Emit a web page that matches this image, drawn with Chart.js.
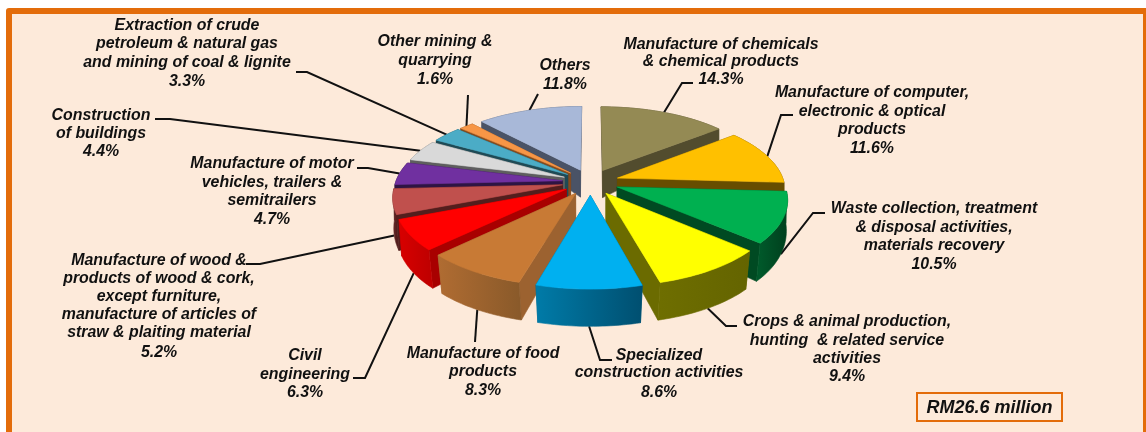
<!DOCTYPE html>
<html>
<head>
<meta charset="utf-8">
<title>RM26.6 million</title>
<script src="https://cdn.jsdelivr.net/npm/chart.js@4"></script>
<style>
    html, body { margin: 0; padding: 0; background: #fff; }
    body { position: relative; width: 1146px; height: 432px; overflow: hidden; }
    #frame {
        position: absolute; left: 6px; top: 8px; width: 1131px; height: 440px;
        background: #fdeada; border: 6px solid #e36c0a; border-radius: 3px;
    }
    #chartjs { position: absolute; left: 0; top: 0; }
    #total {
        position: absolute; left: 916px; top: 392px; width: 143px; height: 26px;
        border: 2px solid #e36c0a; text-align: center; color: #111;
        font: italic bold 18px "Liberation Sans", Arial, sans-serif; line-height: 27px;
    }
</style>
</head>
<body>
<div id="frame"></div>
<canvas id="chartjs" width="1146" height="432"></canvas>
<div id="total">RM26.6 million</div>
<script>
const categories = [
    ["Manufacture of chemicals", "& chemical products"],
    ["Manufacture of computer,", "electronic & optical", "products"],
    ["Waste collection, treatment", "& disposal activities,", "materials recovery"],
    ["Crops & animal production,", "hunting  & related service", "activities"],
    ["Specialized", "construction activities"],
    ["Manufacture of food", "products"],
    ["Civil", "engineering"],
    ["Manufacture of wood &", "products of wood & cork,", "except furniture,", "manufacture of articles of", "straw & plaiting material"],
    ["Manufacture of motor", "vehicles, trailers &", "semitrailers"],
    ["Construction", "of buildings"],
    ["Extraction of crude", "petroleum & natural gas", "and mining of coal & lignite"],
    ["Other mining &", "quarrying"],
    ["Others"]
];
const values = [14.3, 11.6, 10.5, 9.4, 8.6, 8.3, 6.3, 5.2, 4.7, 4.4, 3.3, 1.6, 11.8];

const topColors = ["#948a54", "#ffc000", "#00b050", "#ffff00", "#00b0f0", "#c87a35", "#ff0000", "#c0504d", "#7030a0", "#d9d9d9", "#4bacc6", "#f79646", "#a8b8d8"];
const cutColors = ["#524c2e", "#674d00", "#004a22", "#6b6b00", "#005f82", "#9c6230", "#a80000", "#531e1d", "#2e1443", "#5e5e5e", "#1f4a55", "#844c1f", "#4a5366"];
const rimLeft = ["#524c2e", "#674d00", "#00582a", "#6e6e00", "#007ba8", "#b06c32", "#d80000", "#6a2a28", "#2e1443", "#5e5e5e", "#1f4a55", "#844c1f", "#4a5366"];
const rimRight = ["#524c2e", "#674d00", "#003f1d", "#646400", "#004f70", "#8a5a2a", "#c00000", "#531e1d", "#2e1443", "#5e5e5e", "#1f4a55", "#844c1f", "#4a5366"];

// label centre x and the y of each text line, last one is the percentage
const labelX = [721, 872, 934, 847, 659, 483, 305, 159, 272, 101, 187, 435, 565];
const labelY = [
    [45, 62, 80], [93, 112, 130, 149], [209, 228, 246, 265], [322, 341, 359, 377], [356, 373, 393],
    [354, 372, 391], [356, 375, 393], [261, 279, 297, 315, 333, 353], [164, 183, 201, 220],
    [116, 134, 152], [26, 44, 63, 82], [42, 61, 80], [66, 85]
];
// leader line from the label to the bend, the slice end comes from the arc itself
const leaderBends = [
    [[693, 83], [682, 83]], [[793, 115], [781, 115]], [[825, 213], [813, 213]], [[737, 326], [726, 326]],
    [[612, 360], [600, 360]], [[475, 342]], [[353, 378], [365, 378]],
    [[246, 264], [260, 264]], [[357, 168], [368, 168]], [[155, 119], [170, 119]],
    [[296, 72], [307, 72]], [[468, 95]], [[538, 94]]
];

// tilted disc, top face and bottom face have their own perspective
const view = { cx: 590.5, sx: 195, sy: 89, p: .169, cy: 182, bottomCy: 212, bottomSy: 110, bottomP: .0377, bottomPinch: .035 };
const steps = 24;

function topPoint(u, v) {
    const w = 1 - view.p * v;
    return { x: view.cx + view.sx * u / w, y: view.cy + view.sy * v / w };
}

function bottomPoint(u, v) {
    const x = view.cx + (topPoint(u, v).x - view.cx) * (1 - view.bottomPinch * Math.max(v, 0));
    return { x: x, y: view.bottomCy + view.bottomSy * v / (1 - view.bottomP * v) };
}

// disc coordinates of a slice: apex and rim points, taken from the arc element
function sliceGeometry(arc) {
    const p = arc.getProps(["startAngle", "endAngle", "outerRadius"], true);
    const off = arc.options.offset;
    const total = p.outerRadius + off;
    const mid = (p.startAngle + p.endAngle) / 2;
    const at = a => ({
        u: (Math.cos(mid) * off + Math.cos(a) * p.outerRadius) / total,
        v: (Math.sin(mid) * off + Math.sin(a) * p.outerRadius) / total
    });
    const apex = { u: Math.cos(mid) * off / total, v: Math.sin(mid) * off / total };
    const rim = [];
    for (let i = 0; i <= steps; i++) {
        rim.push(at(p.startAngle + (p.endAngle - p.startAngle) * i / steps));
    }
    return { apex, rim, mid: at(mid) };
}

function fillPolygon(ctx, points, color) {
    ctx.beginPath();
    points.forEach((pt, i) => i ? ctx.lineTo(pt.x, pt.y) : ctx.moveTo(pt.x, pt.y));
    ctx.closePath();
    ctx.fillStyle = color;
    ctx.strokeStyle = color;
    ctx.lineWidth = .6;
    ctx.fill();
    ctx.stroke();
}

function drawLeaders(ctx, arcs) {
    ctx.strokeStyle = "#111";
    ctx.lineWidth = 2;
    arcs.forEach((arc, i) => {
        const m = sliceGeometry(arc).mid;
        const end = m.v > 0 ? bottomPoint(m.u, m.v) : topPoint(m.u, m.v);
        ctx.beginPath();
        leaderBends[i].forEach((pt, k) => k ? ctx.lineTo(pt[0], pt[1]) : ctx.moveTo(pt[0], pt[1]));
        ctx.lineTo(end.x, end.y);
        ctx.stroke();
    });
}

function drawSlice(ctx, arc, i) {
    const g = sliceGeometry(arc);
    const xs = g.rim.map(r => topPoint(r.u, r.v).x);
    const gradient = ctx.createLinearGradient(Math.min(...xs), 0, Math.max(...xs), 0);
    gradient.addColorStop(0, rimLeft[i]);
    gradient.addColorStop(1, rimRight[i]);

    const rimTop = g.rim.map(r => topPoint(r.u, r.v));
    const rimBottom = g.rim.map(r => bottomPoint(r.u, r.v)).reverse();
    const walls = [
        { pts: [g.apex, g.rim[0]], poly: null, color: cutColors[i] },
        { pts: [g.apex, g.rim[steps]], poly: null, color: cutColors[i] },
        { pts: [g.rim[0], g.rim[steps / 2], g.rim[steps]], poly: rimTop.concat(rimBottom), color: gradient }
    ];
    const depth = w => w.pts.reduce((s, r) => s + r.v, 0) / w.pts.length;
    walls.sort((a, b) => depth(a) - depth(b));
    walls.forEach(w => {
        const [a, b] = w.pts;
        const poly = w.poly || [topPoint(a.u, a.v), topPoint(b.u, b.v), bottomPoint(b.u, b.v), bottomPoint(a.u, a.v)];
        fillPolygon(ctx, poly, w.color);
    });

    const face = [g.apex].concat(g.rim).map(r => topPoint(r.u, r.v));
    fillPolygon(ctx, face, topColors[i]);
}

function drawLabels(ctx) {
    ctx.fillStyle = "#111";
    ctx.font = 'italic bold 15.9px "Liberation Sans", Arial, sans-serif';
    ctx.textAlign = "center";
    ctx.textBaseline = "middle";
    categories.forEach((lines, i) => {
        lines.concat(values[i].toFixed(1) + "%").forEach((text, k) => {
            ctx.fillText(text, labelX[i], labelY[i][k]);
        });
    });
}

const tiltedPie = {
    id: "tiltedPie",
    beforeDatasetDraw(chart, args) {
        const ctx = chart.ctx;
        const arcs = args.meta.data;
        ctx.save();
        drawLeaders(ctx, arcs);
        const order = arcs.map((arc, i) => i).sort((a, b) => sliceGeometry(arcs[a]).mid.v - sliceGeometry(arcs[b]).mid.v);
        order.forEach(i => drawSlice(ctx, arcs[i], i));
        drawLabels(ctx);
        ctx.restore();
        return false;
    }
};

new Chart(document.getElementById("chartjs").getContext("2d"), {
    type: "pie",
    data: {
        labels: categories.map(c => c.join(" ")),
        datasets: [{
            data: values,
            backgroundColor: topColors,
            borderWidth: 0,
            offset: 34
        }]
    },
    options: {
        responsive: false,
        animation: false,
        events: [],
        plugins: {
            legend: { display: false },
            tooltip: { enabled: false }
        }
    },
    plugins: [tiltedPie]
});
</script>
</body>
</html>
